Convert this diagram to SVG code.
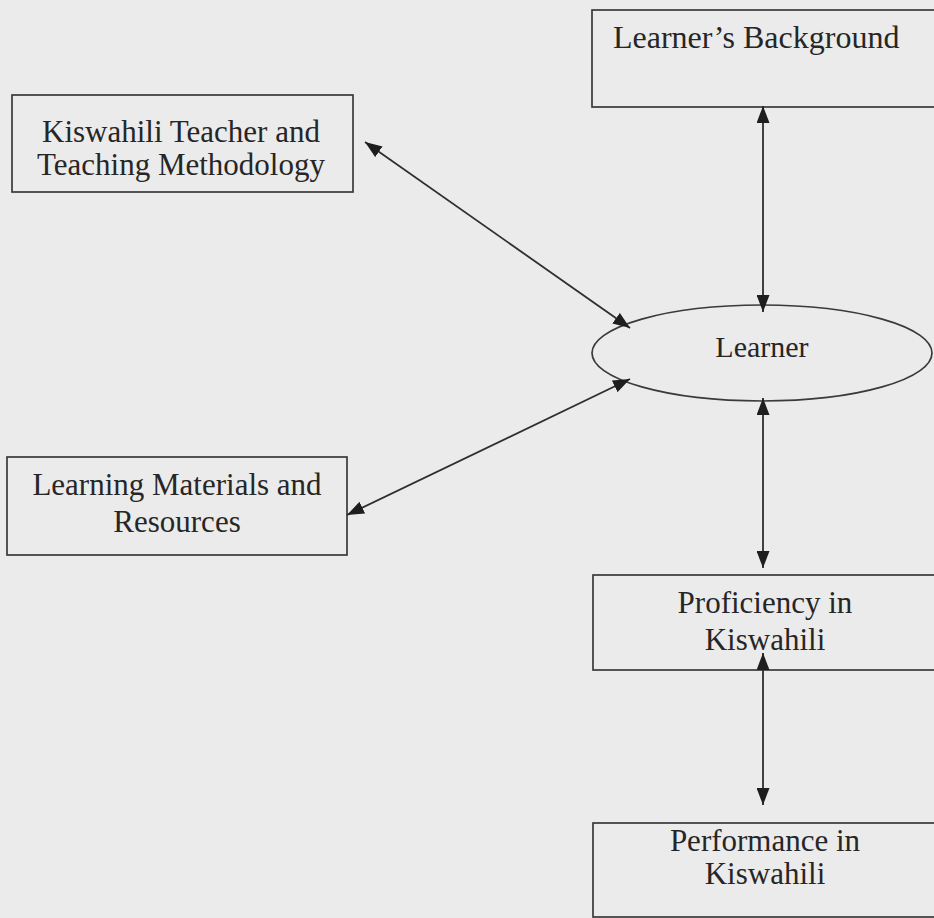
<svg xmlns="http://www.w3.org/2000/svg" width="934" height="918" viewBox="0 0 934 918">
<defs>
<style>
.box{fill:none;stroke:#3a3a3a;stroke-width:1.7}
.t{font-family:"Liberation Serif","Times New Roman",serif;font-size:31px;fill:#262626;text-anchor:middle}
.c{stroke:#2e2e2e;stroke-width:1.8;fill:none}
</style>
<marker id="ah" viewBox="0 0 17 13" refX="17" refY="6.5" markerWidth="17" markerHeight="13" markerUnits="userSpaceOnUse" orient="auto-start-reverse">
<path d="M0,0 L17,6.5 L0,13 z" fill="#1e1e1e"/>
</marker>
</defs>
<rect width="934" height="918" fill="#ebebeb"/>
<g id="background">
<rect class="box" x="592" y="10" width="360" height="97"/>
<text class="t" x="613" y="48" style="text-anchor:start;font-size:32px">Learner’s Background</text>
</g>
<g id="teacher">
<rect class="box" x="12" y="95" width="341" height="97"/>
<text class="t" x="181" y="142">Kiswahili Teacher and</text>
<text class="t" x="181" y="175">Teaching Methodology</text>
</g>
<g id="learner">
<ellipse class="box" cx="762" cy="353" rx="170" ry="48"/>
<text class="t" x="762" y="357" style="font-size:30px">Learner</text>
</g>
<g id="materials">
<rect class="box" x="7" y="457" width="340" height="98"/>
<text class="t" x="177" y="495">Learning Materials and</text>
<text class="t" x="177" y="532">Resources</text>
</g>
<g id="proficiency">
<rect class="box" x="593" y="575" width="360" height="95"/>
<text class="t" x="765" y="613">Proficiency in</text>
<text class="t" x="765" y="650">Kiswahili</text>
</g>
<g id="performance">
<rect class="box" x="593" y="823" width="360" height="94"/>
<text class="t" x="765" y="851">Performance in</text>
<text class="t" x="765" y="884">Kiswahili</text>
</g>
<g id="connectors">
<line class="c" x1="763" y1="106" x2="763" y2="312" marker-start="url(#ah)" marker-end="url(#ah)"/>
<line class="c" x1="365" y1="142" x2="630" y2="328" marker-start="url(#ah)" marker-end="url(#ah)"/>
<line class="c" x1="630" y1="379" x2="347" y2="515" marker-start="url(#ah)" marker-end="url(#ah)"/>
<line class="c" x1="763" y1="398" x2="763" y2="568" marker-start="url(#ah)" marker-end="url(#ah)"/>
<line class="c" x1="763" y1="653" x2="763" y2="805" marker-start="url(#ah)" marker-end="url(#ah)"/>
</g>
</svg>
